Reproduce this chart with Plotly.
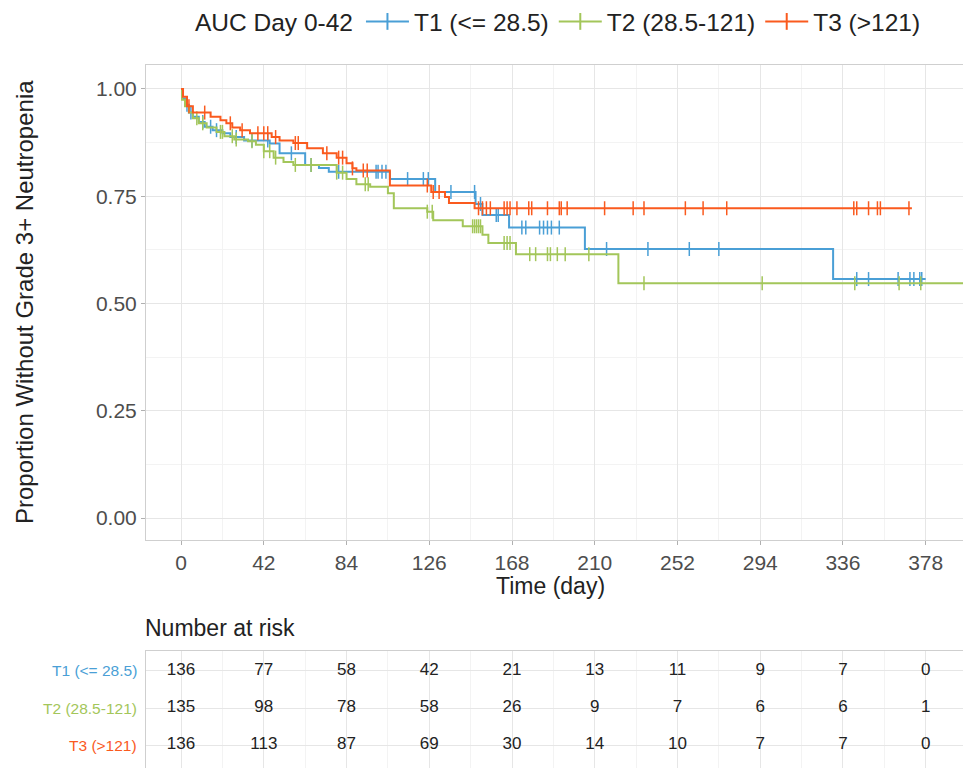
import numpy as np
import plotly.graph_objects as go

# ---------------- data ----------------
group_names = ["T1 (<= 28.5)", "T2 (28.5-121)", "T3 (>121)"]
group_colors = ["#4A9FD6", "#A3C65A", "#FA5A1E"]

t1_times = [0, 0.5, 2, 4, 6, 9, 12, 16, 21, 25, 32, 45, 50, 63, 70, 75, 106, 129, 149.5, 153, 166.5, 205, 331, 378]
t1_surv  = [1.0, 0.978, 0.963, 0.945, 0.935, 0.923, 0.912, 0.904, 0.897, 0.888, 0.880, 0.873, 0.850, 0.823, 0.816, 0.807, 0.790, 0.760, 0.732, 0.706, 0.677, 0.627, 0.557, 0.557]
t1_cens  = [3, 5, 11, 15, 18, 28, 36, 44, 56, 66, 80, 99, 100, 102, 104, 115, 123, 125.5, 137, 149, 152, 160, 161, 173, 175,
            182, 184, 186, 188, 192, 216, 237, 258, 273, 343, 349, 364, 370, 372, 375, 376]

t2_times = [0, 0.5, 2, 4, 6, 9, 13, 18, 22, 27, 34, 38, 42, 47, 52, 57, 79, 84, 89, 96, 105, 108, 125, 128, 143, 153, 156, 170, 222, 405]
t2_surv  = [1.0, 0.975, 0.960, 0.945, 0.932, 0.920, 0.910, 0.900, 0.890, 0.882, 0.878, 0.870, 0.855, 0.840, 0.830, 0.823, 0.805, 0.790, 0.778, 0.772, 0.757, 0.722, 0.714, 0.694, 0.680, 0.660, 0.641, 0.615, 0.547, 0.547]
t2_cens  = [8, 11, 20, 21, 26, 28, 36, 42, 45, 48, 58, 66, 79, 82, 93.5, 95, 125, 127.5, 148, 149, 150, 151, 152, 164, 165.5, 167,
            177, 180, 186, 187.5, 191, 195, 207, 235, 295, 342, 364.5, 375.5]

t3_times = [0, 1, 3, 6, 15, 20, 23, 26, 30, 35, 46, 50, 57, 64, 72, 79, 84, 87, 89, 106, 127, 134, 136, 149, 371]
t3_surv  = [1.0, 0.982, 0.960, 0.945, 0.935, 0.927, 0.920, 0.910, 0.904, 0.897, 0.888, 0.880, 0.874, 0.862, 0.850, 0.840, 0.827, 0.815, 0.810, 0.775, 0.760, 0.748, 0.734, 0.722, 0.722]
t3_cens  = [4, 12, 25, 31, 39, 42, 44, 48, 58, 59.5, 74, 80, 82, 87, 92.5, 94.5, 125, 128, 131, 151, 153, 155, 157, 164, 165.5, 167,
            170.5, 176.5, 178, 186, 192, 193, 196, 215, 229.5, 235, 256, 265, 277, 341.5, 343, 349, 353.5, 355, 369.5]

risk_times = [0, 42, 84, 126, 168, 210, 252, 294, 336, 378]
risk_t1 = [136, 77, 58, 42, 21, 13, 11, 9, 7, 0]
risk_t2 = [135, 98, 78, 58, 26, 9, 7, 6, 6, 1]
risk_t3 = [136, 113, 87, 69, 30, 14, 10, 7, 7, 0]

x_ticks = [0, 42, 84, 126, 168, 210, 252, 294, 336, 378]
y_ticks = [0.0, 0.25, 0.5, 0.75, 1.0]

# ---------------- figure ----------------
OFF = 8                      # default page body margin
W, H = 971 - OFF, 768 - OFF
FONT = "Arial, Liberation Sans, sans-serif"


def px(x):
    return (x - OFF) / W


def py(y):
    return 1 - (y - OFF) / H


fig = go.Figure()
series = [(t1_times, t1_surv, t1_cens), (t2_times, t2_surv, t2_cens), (t3_times, t3_surv, t3_cens)]


def surv_at(times, surv, t):
    idx = np.searchsorted(np.array(times), t, side="right") - 1
    return surv[max(idx, 0)]


for (times, surv, cens), name, col in zip(series, group_names, group_colors):
    fig.add_trace(go.Scatter(x=times, y=surv, mode="lines", line=dict(color=col, width=2, shape="hv"),
                             showlegend=False, hoverinfo="skip", xaxis="x", yaxis="y"))
    cy = [surv_at(times, surv, c) for c in cens]
    fig.add_trace(go.Scatter(x=cens, y=cy, mode="markers",
                             marker=dict(symbol="line-ns", size=10, line=dict(color=col, width=1.5)),
                             showlegend=False, hoverinfo="skip", xaxis="x", yaxis="y"))
    fig.add_trace(go.Scatter(x=[None], y=[None], mode="lines+markers", name=name,
                             line=dict(color=col, width=2),
                             marker=dict(symbol="line-ns", size=12, line=dict(color=col, width=2)),
                             xaxis="x", yaxis="y"))

for row, vals in enumerate([risk_t1, risk_t2, risk_t3]):
    fig.add_trace(go.Scatter(x=risk_times, y=[3 - row] * len(risk_times), mode="text",
                             text=[str(v) for v in vals], textfont=dict(size=17, color="#222222", family=FONT),
                             showlegend=False, hoverinfo="skip", xaxis="x2", yaxis="y2"))

x_range = [-17.8, 401]
grid_major = "#E6E6E6"
grid_minor = "#F3F3F3"
border = "#CFCFCF"
minor_x = [21 + 42 * i for i in range(10)]

x_dom = [px(146), 1.0]
fig.update_layout(
    width=W, height=H,
    margin=dict(l=0, r=0, t=0, b=0, autoexpand=False),
    paper_bgcolor="white", plot_bgcolor="white",
    font=dict(family=FONT, color="#222222"),
    xaxis=dict(domain=x_dom, range=x_range, tickvals=x_ticks, ticktext=[str(v) for v in x_ticks],
               showgrid=True, gridcolor=grid_major, gridwidth=1,
               minor=dict(showgrid=True, gridcolor=grid_minor, tickvals=minor_x, ticks=""),
               zeroline=False, showline=True, linecolor=border, mirror=True,
               ticks="outside", ticklen=4, tickcolor="#B0B0B0",
               tickfont=dict(size=21, color="#4D4D4D"), anchor="y"),
    yaxis=dict(domain=[py(540), py(65)], range=[-0.0512, 1.0559], tickvals=y_ticks,
               ticktext=["0.00", "0.25", "0.50", "0.75", "1.00"],
               showgrid=True, gridcolor=grid_major, gridwidth=1,
               minor=dict(showgrid=True, gridcolor=grid_minor, tickvals=[0.125, 0.375, 0.625, 0.875], ticks=""),
               zeroline=False, showline=True, linecolor=border, mirror=True,
               ticks="outside", ticklen=4, tickcolor="#B0B0B0",
               tickfont=dict(size=21, color="#4D4D4D"), anchor="x"),
    xaxis2=dict(domain=x_dom, range=x_range, tickvals=x_ticks, showticklabels=False,
                showgrid=True, gridcolor=grid_major,
                minor=dict(showgrid=True, gridcolor=grid_minor, tickvals=minor_x, ticks=""),
                zeroline=False, showline=True, linecolor=border, mirror=True, ticks="", anchor="y2"),
    yaxis2=dict(domain=[0, py(651)], range=[0.38, 3.54], tickvals=[1, 2, 3], showticklabels=False,
                showgrid=True, gridcolor=grid_major, zeroline=False,
                showline=True, linecolor=border, mirror=True, ticks="", anchor="x2"),
    legend=dict(orientation="h", x=px(193), xanchor="left", y=py(-1), yanchor="top",
                font=dict(size=24.5, color="#222222"), itemwidth=43,
                title=dict(text="AUC Day 0-42", font=dict(size=24.5, color="#222222"), side="left"),
                bgcolor="rgba(0,0,0,0)"),
    showlegend=True,
)

annotations = [
    dict(text="Proportion Without Grade 3+ Neutropenia", x=px(24), y=py(302), xref="paper", yref="paper",
         textangle=-90, showarrow=False, font=dict(size=24, color="#222222"), xanchor="center", yanchor="middle"),
    dict(text="Time (day)", x=px(550), y=py(586), xref="paper", yref="paper", showarrow=False,
         font=dict(size=23, color="#222222"), xanchor="center", yanchor="middle"),
    dict(text="Number at risk", x=px(143), y=py(628), xref="paper", yref="paper", showarrow=False,
         font=dict(size=23, color="#222222"), xanchor="left", yanchor="middle"),
]
for row, (name, col) in enumerate(zip(group_names, group_colors)):
    annotations.append(dict(text=name, x=px(139), xref="paper", y=3 - row, yref="y2", showarrow=False,
                            font=dict(size=15.5, color=col), xanchor="right", yanchor="middle"))
fig.update_layout(annotations=annotations)

fig.write_html("out.html")
